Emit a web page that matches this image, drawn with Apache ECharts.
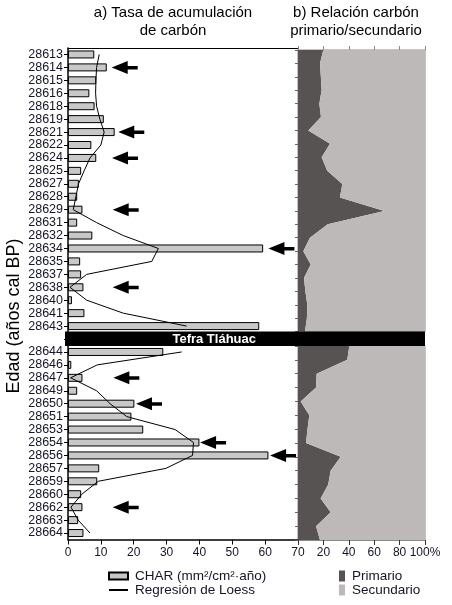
<!DOCTYPE html>
<html><head><meta charset="utf-8">
<script src="https://cdn.jsdelivr.net/npm/echarts@6/dist/echarts.min.js"></script>
<style>html,body{margin:0;padding:0;background:#fff}#c{width:452px;height:605px}</style>
</head><body><div id="c"></div>
<script>
// ---- data ----
const upperAges = ['28613','28614','28615','28616','28618','28619','28621','28622','28624','28625','28627','28628','28629','28631','28632','28634','28635','28637','28638','28640','28641','28643'];
const lowerAges = ['28644','28646','28647','28649','28650','28651','28653','28654','28656','28657','28659','28660','28662','28663','28664'];
const charUpper = [8.0,11.8,8.6,6.5,8.1,10.9,14.2,7.1,8.6,4.0,3.3,2.8,4.4,2.8,7.4,59.4,3.7,4.0,4.7,1.2,5.0,58.2];
const charLower = [29.0,1.0,4.4,2.8,20.2,19.3,22.9,40.0,61.0,9.5,8.9,4.0,4.4,3.1,4.7];
const loessUpper = [9.5,8.7,8.5,8.4,8.7,9.7,11.0,10.0,6.7,4.9,3.2,2.4,1.6,8.7,16.8,27.5,25.5,5.7,0.6,5.7,16.8,36.1];
const loessLower = [34.6,8.9,0.8,8.7,12.8,17.9,32.6,38.2,37.9,29.8,9.2,4.2,0.9,3.1,6.7];
const primUpper = [19.9,17.3,18.0,18.6,16.8,18.1,8.1,25.2,18.6,23.0,34.9,33.0,68.0,23.4,9.4,4.2,10.0,4.7,5.8,7.3,7.0,5.5];
const primLower = [40.4,38.8,14.7,14.2,2.1,8.9,7.5,6.3,33.6,25.7,23.8,17.8,25.7,14.2,17.3];
const arrowAges = ['28614','28621','28624','28629','28634','28638','28647','28650','28654','28656','28662'];
const arrowTips = [13.3,15.3,13.4,13.6,61.0,13.6,13.8,20.7,40.2,61.5,13.6];
const bandLabel = 'Tefra Tláhuac';
const titleA = 'a) Tasa de acumulación\nde carbón';
const titleB = 'b) Relación carbón\nprimario/secundario';
const yTitle = 'Edad (años cal BP)';
const nameChar = 'CHAR (mm²/cm²·año)';
const nameLoess = 'Regresión de Loess';

// ---- build ----
const GAP = ' ';
const ages = upperAges.concat([GAP], lowerAges);
const charVals = charUpper.concat([null], charLower);
const loessVals = loessUpper.concat([null], loessLower);
const secUpper = primUpper.map(v => 100 - v);
const secLower = primLower.map(v => 100 - v);
const FONT = '"Liberation Sans", Arial, sans-serif';
const PRIM = '#575352', SEC = '#bdb9b8', GRAY = '#8a8a8a', TXT = '#14142a';

const chart = echarts.init(document.getElementById('c'), null, {renderer:'canvas'});
const areaSeries = (name, data, x, y, color, stack) => ({
  name, type:'line', xAxisIndex:x, yAxisIndex:y, stack, data, symbol:'none',
  lineStyle:{width:0, color}, itemStyle:{color}, areaStyle:{color, opacity:1}
});
const legendItem = (name, left, top, w, h) => ({
  data:[name], orient:'vertical', left, top, itemWidth:w, itemHeight:h, padding:0,
  selectedMode:false, textStyle:{fontSize:13.5, color:TXT, fontFamily:FONT, padding:[0,0,0,2]}
});
const option = {
  animation:false,
  textStyle:{fontFamily:FONT},
  grid:[
    {left:68, top:48, width:230, height:491.5},
    {left:298, top:50, width:127, height:281.6, show:true, borderColor:GRAY, borderWidth:1, backgroundColor:'transparent'},
    {left:298, top:346, width:127, height:194, show:true, borderColor:GRAY, borderWidth:1, backgroundColor:'transparent'}
  ],
  xAxis:[
    {gridIndex:0, type:'value', min:0, max:70, interval:10, position:'bottom',
     axisLine:{show:true, lineStyle:{color:'#000', width:1.5}},
     axisTick:{show:true, length:5, lineStyle:{color:'#000'}},
     axisLabel:{fontSize:12, color:TXT, margin:7}, splitLine:{show:false}},
    {gridIndex:1, type:'value', min:0, max:100, interval:20, position:'top',
     axisLine:{show:true, lineStyle:{color:GRAY}},
     axisTick:{show:true, length:4, lineStyle:{color:GRAY}},
     axisLabel:{show:false}, splitLine:{show:false}},
    {gridIndex:2, type:'value', min:0, max:100, interval:20, position:'bottom',
     axisLine:{show:true, lineStyle:{color:GRAY}},
     axisTick:{show:true, length:5, lineStyle:{color:'#333'}},
     axisLabel:{fontSize:12, color:TXT, margin:7, formatter:v => v === 0 ? '' : (v === 100 ? '100%' : String(v))},
     splitLine:{show:false}},
    {gridIndex:0, type:'value', min:0, max:70, position:'top',
     axisLine:{show:true, lineStyle:{color:'#000', width:1}},
     axisTick:{show:false}, axisLabel:{show:false}, splitLine:{show:false}}
  ],
  yAxis:[
    {gridIndex:0, type:'category', data:ages, inverse:true,
     axisLine:{show:true, lineStyle:{color:'#000', width:1.5}},
     axisTick:{show:true, alignWithLabel:true, interval:0, length:4, lineStyle:{color:'#000'}},
     axisLabel:{interval:0, fontSize:12.5, color:TXT, margin:5}},
    {gridIndex:1, type:'category', data:upperAges, inverse:true, boundaryGap:false,
     axisLine:{show:true, lineStyle:{color:GRAY}},
     axisTick:{show:true, interval:0, length:3, lineStyle:{color:'#666'}},
     axisLabel:{show:false}},
    {gridIndex:2, type:'category', data:lowerAges, inverse:true, boundaryGap:false,
     axisLine:{show:true, lineStyle:{color:GRAY}},
     axisTick:{show:true, interval:0, length:3, lineStyle:{color:'#666'}},
     axisLabel:{show:false}}
  ],
  legend:[
    legendItem({name:nameChar, icon:'rect'}, 108, 569, 19, 7),
    legendItem({name:nameLoess, itemStyle:{color:'rgba(0,0,0,0)', borderColor:'rgba(0,0,0,0)', borderWidth:0}}, 108, 583, 19, 7),
    legendItem({name:'Primario', icon:'rect'}, 339, 569, 6, 11),
    legendItem({name:'Secundario', icon:'rect'}, 339, 583, 6, 11)
  ],
  series:[
    {name:nameChar, type:'bar', xAxisIndex:0, yAxisIndex:0, data:charVals, barWidth:8,
     itemStyle:{color:'#c8c8c8', borderColor:'#000', borderWidth:1}},
    {name:nameLoess, type:'line', xAxisIndex:0, yAxisIndex:0, data:loessVals, symbol:'none',
     connectNulls:false, lineStyle:{color:'#000', width:1}, itemStyle:{color:'#000'}, z:3},
    {type:'scatter', xAxisIndex:0, yAxisIndex:0, data:arrowAges.map((a, i) => [arrowTips[i], a]),
     symbol:'path://M0,6.5 L16,0 L16,5 L26,5 L26,8.5 L16,8.5 L16,13 Z', symbolSize:[26,13], symbolOffset:[13,0],
     itemStyle:{color:'#000', opacity:1}, z:4, silent:true},
    areaSeries('Primario', primUpper, 1, 1, PRIM, 'u'),
    areaSeries('Secundario', secUpper, 1, 1, SEC, 'u'),
    areaSeries('Primario', primLower, 2, 2, PRIM, 'l'),
    areaSeries('Secundario', secLower, 2, 2, SEC, 'l')
  ]
};
chart.setOption(option);

const x0 = chart.convertToPixel({xAxisIndex:0}, 0) - 3;
const x1 = chart.convertToPixel({xAxisIndex:2}, 100);
const yTop = chart.convertToPixel({yAxisIndex:1}, upperAges[upperAges.length - 1]);
const yBot = chart.convertToPixel({yAxisIndex:2}, lowerAges[0]);
const xText = chart.convertToPixel({xAxisIndex:0}, 44.5);
chart.setOption({graphic:[
  {type:'rect', id:'band', z:100, shape:{x:x0, y:yTop, width:x1 - x0, height:yBot - yTop}, style:{fill:'#000'}},
  {type:'text', id:'bandtxt', z:101, x:xText, y:(yTop + yBot) / 2 + 0.5,
   style:{text:bandLabel, fill:'#fff', textAlign:'center', textVerticalAlign:'middle', font:'bold 13px ' + FONT}},
  {type:'text', id:'ta', x:173, y:4, style:{text:titleA, fill:'#000', textAlign:'center', textVerticalAlign:'top', font:'15px ' + FONT, lineHeight:18}},
  {type:'text', id:'tb', x:356, y:4, style:{text:titleB, fill:'#000', textAlign:'center', textVerticalAlign:'top', font:'15px ' + FONT, lineHeight:18}},
  {type:'text', id:'ty', x:14, y:316, rotation:Math.PI / 2,
   style:{text:yTitle, fill:'#000', textAlign:'center', textVerticalAlign:'middle', font:'18px ' + FONT}}
]});
</script>
</body></html>
